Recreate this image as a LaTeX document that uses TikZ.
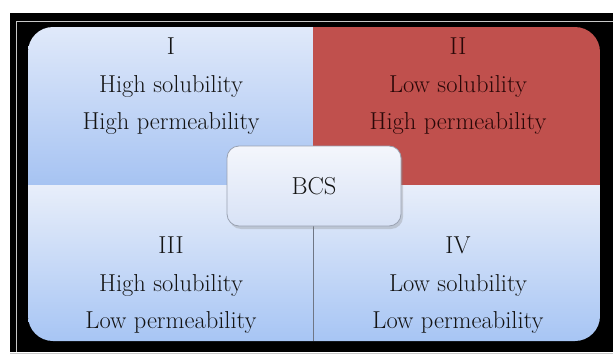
\documentclass[tikz,border=0pt]{standalone}
\usetikzlibrary{shadows}
\definecolor{framegray}{HTML}{C8C8C8}
\definecolor{tlTop}{HTML}{E0E9FA}
\definecolor{tlBot}{HTML}{A6C3F2}
\definecolor{blTop}{HTML}{E8EEFA}
\definecolor{blBot}{HTML}{A7C5F4}
\definecolor{bcsred}{HTML}{C0504D}
\definecolor{txtgray}{HTML}{141414}
\definecolor{txtred}{HTML}{2A0808}
\definecolor{divgray}{HTML}{6F7685}
\definecolor{boxgray}{HTML}{9AA2B2}
\definecolor{boxTop}{HTML}{F4F6FC}
\definecolor{boxBot}{HTML}{D8E2F6}
\begin{document}
\begin{tikzpicture}[x=1pt,y=-1pt,
  quadtext/.style={align=center,inner sep=0pt,font=\fontsize{24.5}{37.5}\selectfont,text=txtgray},
  redtext/.style={quadtext,text=txtred},
  bcsbox/.style={rounded corners=12pt,draw=boxgray,line width=0.8pt,
    top color=boxTop,bottom color=boxBot,
    minimum width=174pt,minimum height=80pt,
    font=\fontsize{24.5}{28}\selectfont,text=txtgray,
    drop shadow={opacity=0.3,shadow xshift=2pt,shadow yshift=-3pt}},
  divline/.style={draw=divgray,line width=0.9pt}]
\useasboundingbox (0,0) rectangle (613,356);
% frame
\fill[black] (10,13) rectangle (613,352);
\draw[framegray,line width=1.2pt] (16.5,352) -- (16.5,21.5) -- (613,21.5);
\draw[framegray,line width=1pt] (10,353.5) -- (613,353.5);
% quadrants
\begin{scope}
  \clip[rounded corners=25pt] (28,27) rectangle (600,341);
  \shade[top color=tlTop,bottom color=tlBot] (28,27) rectangle (313,185);
  \fill[bcsred] (313,27) rectangle (600,185);
  \shade[top color=blTop,bottom color=blBot] (28,185) rectangle (600,341);
\end{scope}
\coordinate (dtop) at (313,185);
\coordinate (dbot) at (313,341);
\draw[divline] (dtop) -- (dbot);
% texts
\node[quadtext] (q1) at (171,86.5) {I\\High solubility\\High permeability};
\node[redtext] (q2) at (458,86.5) {II\\Low solubility\\High permeability};
\node[quadtext] (q3) at (171,285.5) {III\\High solubility\\Low permeability};
\node[quadtext] (q4) at (458,285.5) {IV\\Low solubility\\Low permeability};
% center box
\node[bcsbox] (bcs) at (314,186) {BCS};
\end{tikzpicture}
\end{document}
